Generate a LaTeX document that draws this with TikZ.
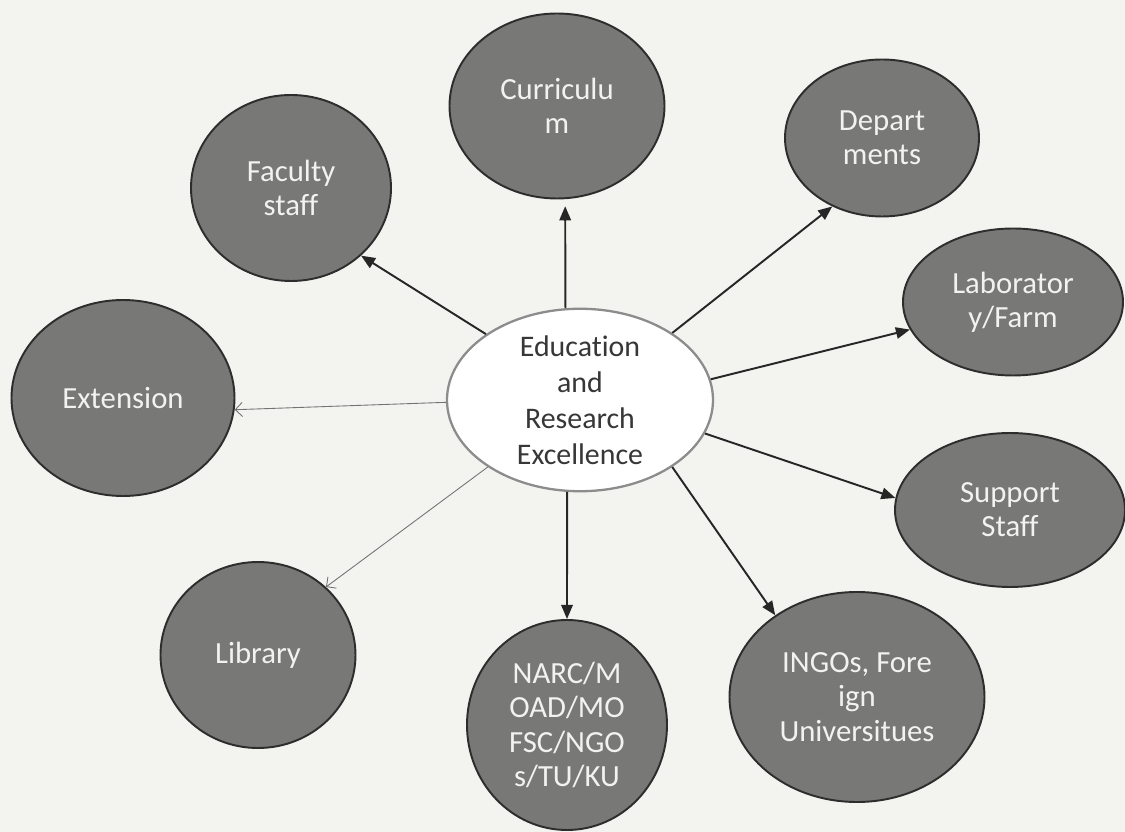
\documentclass[tikz,border=0pt]{standalone}
\usepackage{fontspec}
\setmainfont{Carlito}[Ligatures=NoCommon]
\usetikzlibrary{shapes.geometric,arrows.meta}

\definecolor{paper}{RGB}{243,243,240}
\definecolor{blobfill}{RGB}{120,120,118}
\definecolor{blobline}{RGB}{45,45,45}
\definecolor{blobtext}{RGB}{242,242,240}
\definecolor{hubline}{RGB}{140,140,140}
\definecolor{hubtext}{RGB}{55,55,55}

\tikzset{
  blob/.style={ellipse, draw=blobline, line width=1.1pt, fill=blobfill,
    text=blobtext, align=center, inner sep=0pt,
    font=\fontsize{17.5}{19.5}\selectfont},
  hub/.style={ellipse, draw=hubline, line width=1.3pt, fill=white,
    text=hubtext, align=center, inner sep=0pt,
    font=\fontsize{17}{20.5}\selectfont},
  link/.style={-{Triangle[length=8pt,width=6.5pt]}, line width=1.1pt, black!85},
  faint/.style={-{Straight Barb[length=4pt,width=8pt]}, line width=0.5pt, black!55},
}

\begin{document}
\begin{tikzpicture}
      \fill[paper] (-11.6,-8.64) rectangle (10.9,8.0);
      \useasboundingbox (-11.6,-8.64) rectangle (10.9,8.0);

      \node[hub, minimum width=5.32cm, minimum height=3.6cm] (edu)
        {Education\\and\\Research\\Excellence};
      \node[blob, above of=edu, yshift=4.88cm, xshift=-0.46cm,
        minimum width=4.3cm, minimum height=3.7cm] (cur) {Curriculu\\m};
      \node[blob, left of=edu, xshift=-4.78cm, yshift=4.24cm,
        minimum width=4.0cm, minimum height=3.72cm] (fac) {Faculty\\staff};
      \node[blob, right of=edu, xshift=5.04cm, yshift=5.24cm,
        minimum width=3.88cm, minimum height=3.14cm] (dep) {Depart\\ments};
      \node[blob, right of=edu, xshift=7.66cm, yshift=1.96cm,
        minimum width=4.4cm, minimum height=2.94cm] (lab) {Laborator\\y/Farm};
      \node[blob, left of=edu, xshift=-8.14cm, yshift=0.04cm,
        minimum width=4.46cm, minimum height=3.92cm] (ext) {Extension};
      \node[blob, right of=edu, xshift=7.6cm, yshift=-2.2cm,
        minimum width=4.6cm, minimum height=3.08cm] (sup) {Support\\Staff};
      \node[blob, left of=edu, xshift=-5.44cm, yshift=-5.1cm,
        minimum width=3.9cm, minimum height=3.72cm] (lib) {Library};
      \node[blob, below of=edu, yshift=-5.5cm, xshift=-0.26cm,
        minimum width=4.0cm, minimum height=4.2cm] (nar)
        {NARC/M\\OAD/MO\\FSC/NGO\\s/TU/KU};
      \node[blob, right of=edu, xshift=4.54cm, yshift=-5.94cm,
        minimum width=5.1cm, minimum height=4.2cm] (ing)
        {INGOs, Fore\\ign\\Universitues};

      \draw[link, shorten >=4pt] (edu.99) -- (cur.-85);
      \draw[link] (edu.145) -- (fac.-44);
      \draw[link] (edu.36) -- (dep.-126);
      \draw[link] (edu.9) -- (lab.195);
      \draw[link] (edu.-15) -- (sup.174);
      \draw[link] (edu.-36) -- (ing.135);
      \draw[link] (edu.-98) -- (nar.90);
      \draw[faint] (edu.181) -- (ext.-6);
      \draw[faint] (edu.216) -- (lib.45);
    \end{tikzpicture}
\end{document}
